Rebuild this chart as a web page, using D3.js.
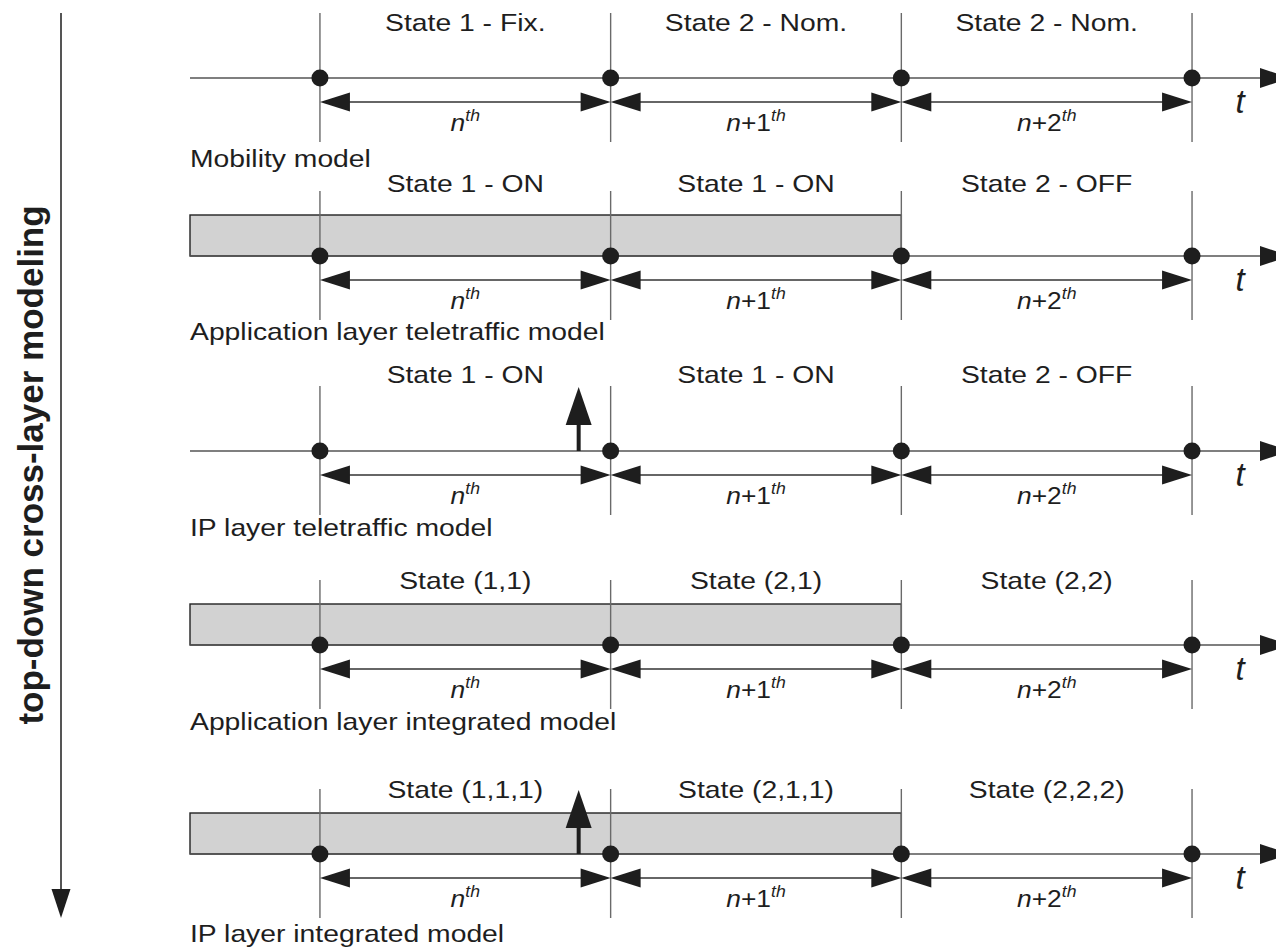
<!DOCTYPE html>
<html>
<head>
<meta charset="utf-8">
<script src="https://cdn.jsdelivr.net/npm/d3@7"></script>
<style>
  html, body { margin: 0; padding: 0; background: #fff; }
  svg { display: block; font-family: "Liberation Sans", Arial, Helvetica, sans-serif; }
</style>
</head>
<body>
<svg id="chart" width="1276" height="949"></svg>
<script>
// ---------------- data ----------------
const rowNames = [
  "Mobility model",
  "Application layer teletraffic model",
  "IP layer teletraffic model",
  "Application layer integrated model",
  "IP layer integrated model"
];
const stateLabels = [
  ["State 1 - Fix.", "State 2 - Nom.", "State 2 - Nom."],
  ["State 1 - ON", "State 1 - ON", "State 2 - OFF"],
  ["State 1 - ON", "State 1 - ON", "State 2 - OFF"],
  ["State (1,1)", "State (2,1)", "State (2,2)"],
  ["State (1,1,1)", "State (2,1,1)", "State (2,2,2)"]
];
const epochTimes = [1, 2, 3, 4];               // event instants on each time axis
const periodIndex = ["", "+1", "+2"];          // n, n+1, n+2
const onPeriodEnd = [null, 3, null, 3, 3];     // grey ON block ends at this epoch (null = none)
const arrivalTimes = [null, null, 1.89, null, 1.89]; // packet arrival arrow (null = none)
const sideTitle = "top-down cross-layer modeling";
const axisSymbol = "t";

// ---------------- layout ----------------
const tStart = 0.553, tEnd = 4.337;
const x = d3.scaleLinear().domain([tStart, tEnd]).range([190, 1290]);
const rowY = d3.scaleOrdinal().domain(d3.range(rowNames.length)).range([78, 256, 451, 645, 854]);
const stateDy = [-47, -64, -68, -56, -56];
const nameDy = [89, 84, 85, 85, 88];
const SX = 1.18; // horizontal stretch of the lettering
const FS = 24;
const ink = "#1e1e1e";

const svg = d3.select("#chart");

function stretchedText(g, tx, ty, str, size, anchor) {
  return g.append("text")
    .attr("transform", `translate(${tx},${ty}) scale(${SX},1)`)
    .attr("text-anchor", anchor)
    .attr("font-size", size)
    .attr("fill", ink)
    .text(str);
}

rowNames.forEach((name, r) => {
  const y0 = rowY(r);
  const g = svg.append("g").attr("class", "row");

  // grey ON block
  if (onPeriodEnd[r] !== null) {
    g.append("rect")
      .attr("x", x(tStart)).attr("y", y0 - 41)
      .attr("width", x(onPeriodEnd[r]) - x(tStart)).attr("height", 41)
      .attr("fill", "#d2d2d2").attr("stroke", "#222").attr("stroke-width", 1.4);
  }

  // time axis
  g.append("line")
    .attr("x1", x(tStart)).attr("x2", x(tEnd) - 28)
    .attr("y1", y0).attr("y2", y0)
    .attr("stroke", "#555").attr("stroke-width", 1.5);
  g.append("path")
    .attr("d", d3.line()([[x(tEnd), y0], [x(tEnd) - 30, y0 - 10], [x(tEnd) - 30, y0 + 10]]) + "Z")
    .attr("fill", ink);

  // epoch markers
  g.selectAll("line.epoch").data(epochTimes).join("line")
    .attr("class", "epoch")
    .attr("x1", d => x(d)).attr("x2", d => x(d))
    .attr("y1", y0 - 65).attr("y2", y0 + 64)
    .attr("stroke", "#6a6a6a").attr("stroke-width", 1.4);

  // period double arrows
  const ya = y0 + 24;
  d3.pairs(epochTimes).forEach(([a, b], i) => {
    const xa = x(a), xb = x(b);
    g.append("line")
      .attr("x1", xa + 28).attr("x2", xb - 28)
      .attr("y1", ya).attr("y2", ya)
      .attr("stroke", "#333").attr("stroke-width", 1.3);
    g.append("path").attr("d", d3.line()([[xa, ya], [xa + 30, ya - 9.5], [xa + 30, ya + 9.5]]) + "Z").attr("fill", ink);
    g.append("path").attr("d", d3.line()([[xb, ya], [xb - 30, ya - 9.5], [xb - 30, ya + 9.5]]) + "Z").attr("fill", ink);

    // n-th label
    const mid = (xa + xb) / 2;
    const lab = g.append("text")
      .attr("transform", `translate(${mid},${y0 + 53}) scale(1.1,1)`)
      .attr("text-anchor", "middle").attr("font-size", 24).attr("fill", ink);
    lab.append("tspan").attr("font-style", "italic").text("n");
    if (periodIndex[i]) lab.append("tspan").text(periodIndex[i]);
    lab.append("tspan").attr("font-style", "italic").attr("font-size", 16).attr("dy", -10).text("th");

    // state label
    stretchedText(g, mid, y0 + stateDy[r], stateLabels[r][i], FS, "middle");
  });

  // epoch dots
  g.selectAll("circle").data(epochTimes).join("circle")
    .attr("cx", d => x(d)).attr("cy", y0).attr("r", 8.5).attr("fill", ink);

  // packet arrival arrow
  if (arrivalTimes[r] !== null) {
    const xp = x(arrivalTimes[r]);
    g.append("line")
      .attr("x1", xp).attr("x2", xp).attr("y1", y0).attr("y2", y0 - 30)
      .attr("stroke", ink).attr("stroke-width", 4);
    g.append("path")
      .attr("d", d3.line()([[xp, y0 - 64], [xp - 13, y0 - 26], [xp + 13, y0 - 26]]) + "Z")
      .attr("fill", ink);
  }

  // axis symbol
  g.append("text")
    .attr("x", 1240).attr("y", y0 + 35)
    .attr("text-anchor", "middle").attr("font-size", 33).attr("font-style", "italic")
    .attr("fill", ink).text(axisSymbol);

  // row name
  stretchedText(g, 190, y0 + nameDy[r], name, FS, "start");
});

// left direction arrow
svg.append("line")
  .attr("x1", 61).attr("x2", 61).attr("y1", 13).attr("y2", 892)
  .attr("stroke", "#555").attr("stroke-width", 2);
svg.append("path")
  .attr("d", d3.line()([[61, 918], [51.5, 889], [70.5, 889]]) + "Z")
  .attr("fill", ink);
svg.append("text")
  .attr("transform", "translate(43,465) rotate(-90)")
  .attr("text-anchor", "middle").attr("font-size", 35).attr("font-weight", "bold")
  .attr("fill", ink).text(sideTitle);
</script>
</body>
</html>
